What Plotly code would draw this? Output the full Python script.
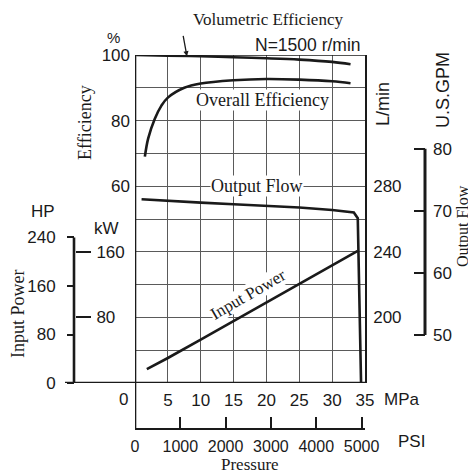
import plotly.graph_objects as go

# the page body adds an 8 px margin, so the figure is drawn 8 px in from the window corner
OFF = 8
WIN_W, WIN_H = 476, 474
W, H = WIN_W - OFF, WIN_H - OFF

# ---------------- data ----------------
mpa_ticks = [5, 10, 15, 20, 25, 30, 35]
psi_ticks = [0, 1000, 2000, 3000, 4000, 5000]
eff_ticks = [60, 80, 100]
kw_ticks = [80, 160]
hp_ticks = [0, 80, 160, 240]
lmin_ticks = [200, 240, 280]
gpm_ticks = [50, 60, 70, 80]

p_vol = [0.2, 5, 10, 15, 20, 25, 30, 32.8]
vol_eff = [100, 99.8, 99.6, 99.3, 99.0, 98.6, 97.9, 97.2]

p_ov = [1.5, 2, 3, 4, 5, 7.5, 10, 15, 20, 25, 30, 32.8]
ov_eff = [69, 74.5, 80.5, 84.5, 87, 90, 91.3, 92.3, 92.7, 92.5, 92.0, 91.4]

p_flow = [1.0, 5, 10, 15, 20, 25, 30, 33.3, 33.9, 34.4]
flow_lmin = [272, 271, 270, 269, 268, 267, 265.5, 264, 260.5, 160]

p_pow = [1.8, 5, 10, 15, 20, 25, 30, 33.9]
power_kw = [17, 30.5, 53, 75.5, 98, 120.5, 143, 161]

# ---------------- helpers (window pixels -> paper fractions) ----------------
def px(x):
    return (x - OFF) / W

def py(y):
    return 1 - (y - OFF) / H

SANS = "Liberation Sans, Arial, sans-serif"
SERIF = "Liberation Serif, Times New Roman, serif"
INK = "#1a1a1a"
GRID = "#5a5a5a"

x_dom = [px(135), px(365)]
y_dom = [py(383), py(55)]

fig = go.Figure()
line = dict(color=INK, width=2.6)
fig.add_trace(go.Scatter(x=p_vol, y=vol_eff, mode="lines", line=dict(color=INK, width=2.6, shape="spline"),
                         xaxis="x", yaxis="y", showlegend=False, hoverinfo="skip"))
fig.add_trace(go.Scatter(x=p_ov, y=ov_eff, mode="lines", line=dict(color=INK, width=2.6, shape="spline"),
                         xaxis="x", yaxis="y", showlegend=False, hoverinfo="skip"))
fig.add_trace(go.Scatter(x=p_flow, y=flow_lmin, mode="lines", line=line,
                         xaxis="x", yaxis="y4", showlegend=False, hoverinfo="skip"))
fig.add_trace(go.Scatter(x=p_pow, y=power_kw, mode="lines", line=line,
                         xaxis="x", yaxis="y2", showlegend=False, hoverinfo="skip"))
# empty traces so that the extra axes are drawn
for xa, ya in [("x2", "y"), ("x", "y3"), ("x", "y5")]:
    fig.add_trace(go.Scatter(x=[None], y=[None], xaxis=xa, yaxis=ya, showlegend=False, hoverinfo="skip"))

tickfont = dict(family=SANS, size=17, color=INK)

fig.update_layout(
    width=W, height=H, autosize=False,
    margin=dict(l=0, r=0, t=0, b=0, pad=0),
    paper_bgcolor="white", plot_bgcolor="white",
    hovermode=False,
    xaxis=dict(domain=x_dom, range=[0, 35], anchor="y", automargin=False,
               tickvals=mpa_ticks, ticktext=[str(v) for v in mpa_ticks],
               showgrid=True, gridcolor=GRID, gridwidth=1.2,
               zeroline=False, showline=False, ticks="", tickangle=0,
               tickfont=tickfont, ticklabelstandoff=5),
    xaxis2=dict(overlaying="x", anchor="free", position=py(429), side="bottom", automargin=False,
                range=[0, 35 * 145.038], tickvals=psi_ticks,
                ticktext=[str(v) for v in psi_ticks],
                showgrid=False, zeroline=False, showline=True, linecolor=INK, linewidth=2,
                ticks="inside", ticklen=11, tickwidth=1.5, tickcolor=INK, tickangle=0,
                tickfont=dict(family=SANS, size=16, color=INK), ticklabelstandoff=3),
    yaxis=dict(domain=y_dom, range=[0, 100], anchor="x", automargin=False,
               tickvals=eff_ticks, ticktext=[str(v) for v in eff_ticks],
               showgrid=True, gridcolor=GRID, gridwidth=1.2,
               minor=dict(dtick=10, tick0=0, showgrid=True, gridcolor=GRID, gridwidth=1.2, ticks=""),
               zeroline=False, showline=False, ticks="",
               tickfont=tickfont, ticklabelstandoff=4),
    yaxis2=dict(overlaying="y", anchor="free", position=px(75), side="right", automargin=False,
                range=[0, 400], tickvals=kw_ticks, ticktext=[str(v) for v in kw_ticks],
                showgrid=False, zeroline=False, showline=False,
                ticks="outside", ticklen=15, tickwidth=1.5, tickcolor=INK,
                tickfont=tickfont, ticklabelstandoff=2),
    yaxis3=dict(overlaying="y", anchor="free", position=px(74), side="left", automargin=False,
                range=[0, 541], tickvals=hp_ticks, ticktext=[str(v) for v in hp_ticks],
                showgrid=False, zeroline=False, showline=False,
                ticks="outside", ticklen=7, tickwidth=1.5, tickcolor=INK,
                tickfont=tickfont, ticklabelstandoff=8),
    yaxis4=dict(overlaying="y", anchor="x", side="right", automargin=False,
                range=[160, 360], tickvals=lmin_ticks, ticktext=[str(v) for v in lmin_ticks],
                showgrid=False, zeroline=False, showline=True, linecolor=INK, linewidth=1.6,
                ticks="", tickfont=tickfont, ticklabelstandoff=3),
    yaxis5=dict(overlaying="y", anchor="free", position=px(425), side="right", automargin=False,
                range=[160 / 3.78541, 360 / 3.78541], tickvals=gpm_ticks,
                ticktext=[str(v) for v in gpm_ticks],
                showgrid=False, zeroline=False, showline=False,
                ticks="inside", ticklen=11, tickwidth=1.5, tickcolor=INK,
                tickfont=tickfont, ticklabelstandoff=7),
)

shapes = [
    # left border, extended down to the PSI scale
    dict(type="line", xref="x", yref="paper", x0=0, x1=0, y0=py(429), y1=py(55),
         line=dict(color=INK, width=2.6)),
    # bottom line extended left past the HP scale
    dict(type="line", xref="paper", yref="y", x0=px(65), x1=px(365), y0=0, y1=0,
         line=dict(color=INK, width=2.6)),
    # top border
    dict(type="line", xref="x", yref="y", x0=0, x1=35, y0=100, y1=100,
         line=dict(color=INK, width=1.4)),
    # HP scale line
    dict(type="line", xref="paper", yref="y3", x0=px(74), x1=px(74), y0=0, y1=240,
         line=dict(color=INK, width=2.6)),
    # GPM scale line
    dict(type="line", xref="paper", yref="y5", x0=px(425), x1=px(425), y0=50, y1=80,
         line=dict(color=INK, width=3)),
]
fig.update_layout(shapes=shapes)

def note(text, x, y, size=17, font=SANS, angle=0, bg=None, xanchor="center"):
    d = dict(text=text, x=px(x), y=py(y), xref="paper", yref="paper", showarrow=False,
             font=dict(family=font, size=size, color=INK), textangle=angle,
             xanchor=xanchor, yanchor="middle")
    if bg:
        d.update(bgcolor=bg, borderpad=0)
    return d

annotations = [
    note("Volumetric Efficiency", 268, 19, 17, SERIF),
    note("N=1500 r/min", 308, 45, 17.5),
    note("%", 113, 37, 15),
    note("Efficiency", 85, 123, 18, SERIF, -90),
    note("Overall Efficiency", 263, 100, 18, SERIF, bg="white"),
    note("Output Flow", 257, 186, 18, SERIF, bg="white"),
    note("Input Power", 248, 294, 17, SERIF, -30, bg="white"),
    note("HP", 43, 212, 17),
    note("kW", 106, 228, 17),
    note("Input Power", 18, 314, 18, SERIF, -90),
    note("0", 123, 399, 17),
    note("MPa", 402, 399, 17),
    note("PSI", 411, 441, 17),
    note("Pressure", 250, 464, 17, SERIF),
    note("L/min", 383, 104, 18, SANS, -90),
    note("U.S.GPM", 443, 90, 18, SANS, -90),
    note("Output Flow", 463, 226, 16, SERIF, -90),
    dict(text="", x=7.9, y=99.6, xref="x", yref="y", showarrow=True,
         ax=-4, ay=-22, arrowhead=2, arrowsize=0.8, arrowwidth=1.3, arrowcolor=INK),
]
fig.update_layout(annotations=annotations)

fig.write_html("out.html")
